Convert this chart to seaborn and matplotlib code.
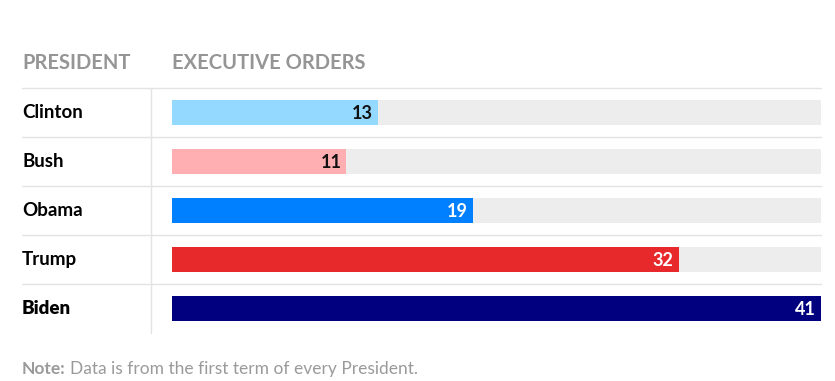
import matplotlib
matplotlib.use("Agg")
import matplotlib.pyplot as plt
import matplotlib.transforms as mtransforms
import pandas as pd
import seaborn as sns

presidents = ["Clinton", "Bush", "Obama", "Trump", "Biden"]
orders = [13, 11, 19, 32, 41]
bar_colors = ["#94D9FF", "#FFAFB1", "#0080FF", "#E8292B", "#01007F"]
label_colors = ["#111111", "#111111", "#FFFFFF", "#FFFFFF", "#FFFFFF"]
note_text = "Data is from the first term of every President."

sns.set_theme(style="white")
plt.rcParams["font.family"] = ["Lato", "DejaVu Sans"]

df = pd.DataFrame({"President": presidents, "Orders": orders})
df["Track"] = max(orders)

W, H = 835, 381
fig = plt.figure(figsize=(W / 100, H / 100), dpi=100)
ax = fig.add_axes([172 / W, (H - 333) / H, 649 / W, 245 / H])

sns.barplot(data=df, x="Track", y="President", orient="h", color="#EDEDED",
            width=0.51, ax=ax, saturation=1, linewidth=0, edgecolor="none")
sns.barplot(data=df, x="Orders", y="President", orient="h", hue="President",
            palette=bar_colors, width=0.51, ax=ax, saturation=1, legend=False,
            linewidth=0, edgecolor="none")

ax.set_xlim(0, max(orders))
ax.set_ylim(4.5, -0.5)
ax.axis("off")

blend = mtransforms.blended_transform_factory(fig.transFigure, ax.transData)

# row separators
for i in range(len(presidents)):
    ax.plot([22 / W, 821 / W], [i - 0.5, i - 0.5], transform=blend,
            color="#E3E3E3", lw=1, clip_on=False)
# vertical divider
ax.plot([151 / W, 151 / W], [-0.5, 4.5], transform=blend,
        color="#E3E3E3", lw=1, clip_on=False)

for i, (name, val) in enumerate(zip(presidents, orders)):
    ax.text(22 / W, i, name, transform=blend, ha="left", va="center",
            fontsize=13.5, fontweight="heavy" if name == "Biden" else "bold",
            color="#000000")
    ax.text(val - 0.3, i + 0.03, str(val), ha="right", va="center",
            fontsize=13, fontweight="bold", color=label_colors[i])

fig.text(22 / W, 1 - 63 / H, "PRESIDENT", ha="left", va="center",
         fontsize=14.5, fontweight="bold", color="#959595")
fig.text(172 / W, 1 - 63 / H, "EXECUTIVE ORDERS", ha="left", va="center",
         fontsize=14.5, fontweight="bold", color="#959595")

note = fig.text(22 / W, 1 - 369 / H, "Note:", ha="left", va="center",
                fontsize=12.5, fontweight="bold", color="#9A9A9A")
fig.canvas.draw()
bb = note.get_window_extent()
fig.text(bb.x1 / W + 4 / W, 1 - 369 / H, note_text, ha="left", va="center",
         fontsize=12.5, color="#9A9A9A")

fig.savefig("out.png", dpi=100, facecolor="white")
